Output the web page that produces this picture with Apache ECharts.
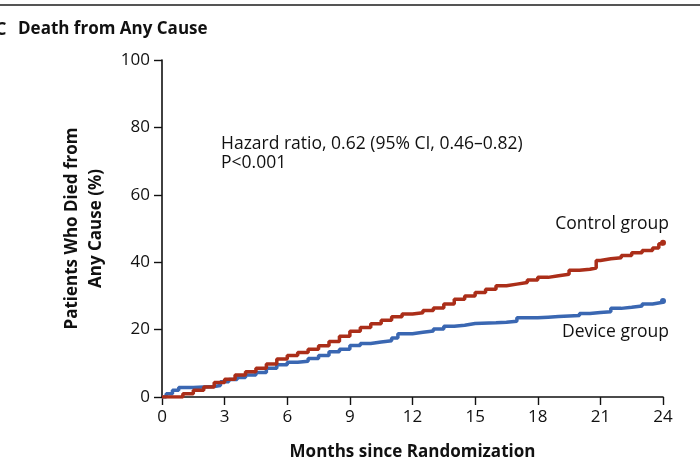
<!DOCTYPE html>
<html>
<head>
<meta charset="utf-8">
<script src="https://cdn.jsdelivr.net/npm/echarts@6/dist/echarts.min.js"></script>
<style>
  html, body { margin: 0; padding: 0; background: #fff; }
  #chart { width: 700px; height: 475px; }
</style>
</head>
<body>
<div id="chart"></div>
<script>
// Kaplan-Meier style cumulative death curves.
const xTicks = [0, 3, 6, 9, 12, 15, 18, 21, 24];
const yTicks = [0, 20, 40, 60, 80, 100];

// months since randomization, % died (control group)
const controlMonths = [0, 0.7, 1.0, 1.5, 2.0, 2.5, 3.0, 3.5, 4.0, 4.5, 5.0, 5.5, 6.0, 6.5, 7.0, 7.5, 8.0, 8.5, 9.0, 9.5, 10.0, 10.5, 11.0, 11.5, 12.0, 12.5, 13.0, 13.5, 14.0, 14.5, 15.0, 15.5, 16.0, 16.5, 17.0, 17.5, 18.0, 18.5, 19.0, 19.5, 20.0, 20.5, 20.8, 21.0, 21.5, 22.0, 22.5, 23.0, 23.5, 23.8, 24];
const controlPct = [0, 0, 1, 2, 3, 4.3, 5.3, 6.5, 7.5, 8.5, 9.8, 11.3, 12.3, 13.2, 14.2, 15.2, 16.5, 18, 19.5, 20.6, 21.7, 22.8, 23.8, 24.6, 25, 25.7, 26.4, 27.6, 29, 30, 31, 32, 33, 33.5, 34, 34.7, 35.5, 36, 36.4, 37.6, 37.9, 38.3, 40.5, 41, 41.3, 42, 42.8, 43.5, 44.2, 45.5, 45.8];

// device group
const deviceMonths = [0, 0.2, 0.5, 0.8, 1.5, 2.0, 2.5, 2.8, 3.2, 3.6, 4.0, 4.5, 5.0, 5.5, 6.0, 6.5, 7.0, 7.5, 8.0, 8.5, 9.0, 9.5, 10.0, 10.5, 11.0, 11.3, 12.0, 12.5, 13.0, 13.5, 14.0, 14.5, 15.0, 16.0, 16.5, 17.0, 18.0, 18.5, 19.0, 20.0, 20.5, 21.0, 21.5, 22.0, 22.5, 23.0, 23.5, 24];
const devicePct = [0, 1, 2, 2.8, 3, 3.1, 3.4, 4.5, 5.2, 5.8, 6.5, 7.3, 8.5, 9.6, 10.3, 10.6, 11.4, 12.3, 13.4, 14.2, 15.3, 15.9, 16.3, 16.7, 17.5, 18.8, 19.2, 19.6, 20.2, 21, 21.3, 21.8, 22, 22.2, 22.5, 23.5, 23.7, 23.9, 24.2, 24.8, 25.1, 25.3, 26.3, 26.6, 27, 27.6, 28.1, 28.5];

const FONT = '"Open Sans", "Noto Sans", sans-serif';
const RED = '#ab2e19';
const BLUE = '#3a67b2';

function pairs(xs, ys) {
  return xs.map((x, i) => [x, ys[i]]);
}

function kmSeries(name, xs, ys, color) {
  const last = xs.length - 1;
  return {
    name,
    type: 'line',
    step: 'end',
    data: pairs(xs, ys),
    symbol: 'circle',
    showSymbol: true,
    symbolSize: (v, p) => (p.dataIndex === last ? 6 : 0),
    itemStyle: { color },
    lineStyle: { color, width: 3.5 },
    animation: false,
    silent: true,
  };
}

const chart = echarts.init(document.getElementById('chart'));

chart.setOption({
  backgroundColor: '#fff',
  textStyle: { fontFamily: FONT },
  grid: { left: 162, right: 37, top: 60, bottom: 78 },
  xAxis: {
    type: 'value',
    min: 0,
    max: 24,
    interval: 3,
    name: 'Months since Randomization',
    nameLocation: 'middle',
    nameGap: 47,
    nameTextStyle: { fontFamily: FONT, fontSize: 17, fontWeight: 'bold', color: '#111' },
    axisLine: { lineStyle: { color: '#111', width: 1.6 } },
    axisTick: { show: true, length: 8, lineStyle: { color: '#111', width: 1.4 } },
    axisLabel: { fontFamily: FONT, fontSize: 17, color: '#111', margin: 12,
      formatter: v => (xTicks.includes(v) ? String(v) : '') },
    splitLine: { show: false },
  },
  yAxis: {
    type: 'value',
    min: 0,
    max: 100,
    interval: 20,
    name: 'Patients Who Died from\nAny Cause (%)',
    nameLocation: 'middle',
    nameGap: 54,
    nameRotate: 90,
    nameTextStyle: { fontFamily: FONT, fontSize: 17, fontWeight: 'bold', color: '#111', lineHeight: 24 },
    axisLine: { show: true, lineStyle: { color: '#111', width: 1.6 } },
    axisTick: { show: true, length: 8, lineStyle: { color: '#111', width: 1.4 } },
    axisLabel: { fontFamily: FONT, fontSize: 17, color: '#111', margin: 12,
      formatter: v => (yTicks.includes(v) ? String(v) : '') },
    splitLine: { show: false },
  },
  graphic: [
    { type: 'rect', left: 0, top: 4, shape: { width: 700, height: 2 }, style: { fill: '#555' } },
    { type: 'text', left: -5, top: 21, style: { text: 'C', font: 'bold 18px ' + FONT, fill: '#111' } },
    { type: 'text', left: 18, top: 21, style: { text: 'Death from Any Cause', font: 'bold 17px ' + FONT, fill: '#111' } },
    { type: 'text', left: 221, top: 135, style: { text: 'Hazard ratio, 0.62 (95% CI, 0.46\u20130.82)', font: '17.5px ' + FONT, fill: '#111' } },
    { type: 'text', left: 221, top: 154, style: { text: 'P<0.001', font: '17.5px ' + FONT, fill: '#111' } },
    { type: 'text', right: 31, top: 215, style: { text: 'Control group', font: '17.5px ' + FONT, fill: '#111' } },
    { type: 'text', right: 31, top: 323, style: { text: 'Device group', font: '17.5px ' + FONT, fill: '#111' } },
  ],
  series: [
    kmSeries('Device group', deviceMonths, devicePct, BLUE),
    kmSeries('Control group', controlMonths, controlPct, RED),
  ],
});
</script>
</body>
</html>
